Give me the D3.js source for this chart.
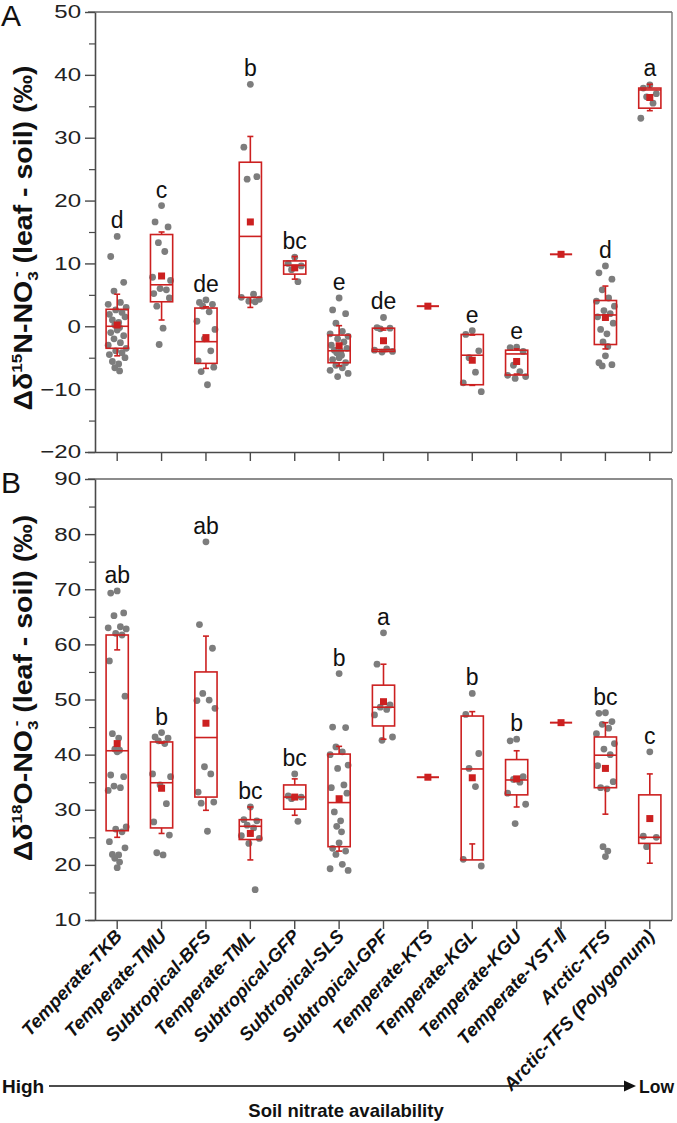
<!DOCTYPE html>
<html><head><meta charset="utf-8">
<script src="https://cdn.jsdelivr.net/npm/d3@7"></script>
<style>
html,body{margin:0;padding:0;background:#fff;}
svg{display:block;font-family:"Liberation Sans",Arial,sans-serif;}
</style></head>
<body>
<svg id="chart" width="677" height="1123"></svg>
<script>
const categories = ["Temperate-TKB","Temperate-TMU","Subtropical-BFS","Temperate-TML","Subtropical-GFP","Subtropical-SLS","Subtropical-GPF","Temperate-KTS","Temperate-KGL","Temperate-KGU","Temperate-YST-\u2161","Arctic-TFS","Arctic-TFS (Polygonum)"];

// Panel A: Δδ15N-NO3- (leaf - soil)
const q1A   = [-3.5, 3.9, -5.9, 4.6, 8.3, -5.8, -4.0, 3.2, -9.3, -7.75, 11.45, -2.9, 34.7];
const medA  = [0.0, 6.6, -2.45, 14.3, 9.7, -3.9, -3.7, 3.2, -4.6, -4.4, 11.45, 1.8, 37.6];
const q3A   = [2.7, 14.6, 2.9, 26.1, 10.4, -1.4, -0.3, 3.2, -1.3, -3.8, 11.45, 4.1, 37.9];
const meanA = [0.2, 8.0, -1.8, 16.6, 9.3, -3.1, -2.3, 3.2, -5.4, -5.6, 11.45, 1.4, 36.4];
const sdA   = [4.9, 7.0, 4.9, 13.6, 1.8, 3.2, 1.7, 0, 4.0, 2.0, 0, 5.0, 2.1];
const lettersA = ["d","c","de","b","bc","e","de","","e","e","","d","a"];
const pointsA = [
  [14.3, 11.1, 7.0, 5.6, 3.8, 3.5, 3.0, 2.6, 2.2, 1.9, 1.5, 1.0, 0.6, 0.2, -0.2, -0.6, -1.0, -1.5, -2.0, -2.6, -3.0, -3.5, -3.9, -4.2, -4.5, -5.0, -5.6, -6.0, -6.6, -7.1],
  [19.2, 16.6, 15.8, 13.3, 11.9, 7.8, 7.3, 6.0, 5.8, 5.2, 4.5, 3.2, -0.3, -2.9],
  [4.2, 3.8, 3.5, 3.2, 2.3, 0.8, -0.5, -2.0, -3.9, -5.5, -6.5, -7.2, -9.3],
  [38.5, 28.5, 23.8, 23.4, 5.1, 4.6, 4.3, 4.0, 3.9],
  [11.0, 10.0, 9.6, 9.0, 7.1],
  [4.5, 2.6, 2.0, 0.5, -0.8, -1.2, -1.6, -2.0, -2.5, -3.0, -3.5, -3.8, -4.0, -4.2, -4.6, -5.0, -5.3, -5.8, -6.2, -6.6, -7.0, -7.5, -8.0],
  [1.4, -0.2, -0.3, -0.4, -3.6, -3.8, -4.0, -4.1],
  [],
  [-0.7, -1.3, -3.9, -5.0, -7.3, -9.0, -10.4],
  [-3.3, -3.4, -4.0, -6.2, -7.2, -7.8, -8.0, -8.3],
  [],
  [9.6, 8.5, 7.5, 5.8, 4.5, 4.0, 3.2, 2.5, 2.0, 1.5, 0.5, -0.5, -1.2, -2.5, -3.2, -4.7, -5.8, -6.1, -6.3],
  [38.4, 37.9, 37.0, 36.5, 35.5, 33.1]
];

// Panel B: Δδ18O-NO3- (leaf - soil)
const q1B   = [26.2, 26.7, 32.3, 24.6, 30.1, 23.3, 45.2, 35.9, 20.9, 32.7, 45.8, 34.0, 23.9];
const medB  = [40.7, 34.9, 43.1, 27.0, 32.3, 31.3, 48.6, 35.9, 37.4, 35.4, 45.8, 39.9, 25.0];
const q3B   = [61.7, 42.3, 55.0, 28.2, 34.5, 40.1, 52.6, 35.9, 47.0, 39.1, 45.8, 43.2, 32.7];
const meanB = [42.0, 33.9, 45.7, 25.7, 32.3, 32.0, 49.6, 35.9, 35.8, 35.6, 45.8, 37.5, 28.4];
const sdB   = [17.0, 8.2, 15.8, 4.8, 3.3, 9.5, 6.8, 0, 12.0, 5.1, 0, 8.3, 8.1];
const lettersB = ["ab","b","ab","bc","bc","b","a","","b","b","","bc","c"];
const pointsB = [
  [69.7, 69.3, 65.7, 65.2, 63.2, 63.0, 62.8, 62.0, 61.7, 57.0, 50.6, 43.8, 43.0, 41.0, 40.8, 40.5, 36.3, 36.0, 34.3, 34.0, 33.5, 26.9, 26.5, 26.0, 24.2, 23.1, 21.9, 21.8, 21.2, 20.5, 19.5],
  [44.0, 43.2, 43.0, 42.5, 42.0, 36.5, 36.0, 34.5, 31.1, 27.8, 25.4, 22.2, 21.8],
  [78.6, 63.6, 59.3, 51.1, 49.9, 49.8, 48.4, 37.8, 36.5, 33.2, 31.4, 31.2, 26.1],
  [30.5, 28.2, 28.0, 27.2, 26.7, 25.3, 24.8, 23.9, 15.5],
  [36.5, 32.5, 32.3, 32.0, 27.9],
  [54.7, 45.0, 44.9, 41.4, 40.5, 40.0, 38.1, 37.5, 34.5, 34.0, 33.0, 29.6, 28.0, 27.0, 26.0, 24.0, 23.0, 22.5, 21.9, 20.1, 19.3, 19.0],
  [62.1, 56.4, 49.0, 48.6, 48.2, 47.2, 43.2, 42.6],
  [],
  [51.1, 47.3, 40.2, 37.5, 34.2, 21.0, 19.8],
  [42.8, 42.5, 36.0, 35.5, 35.0, 33.0, 31.0, 27.5],
  [],
  [47.6, 47.5, 46.0, 45.5, 44.8, 43.8, 42.0, 41.0, 40.0, 38.0, 35.1, 34.0, 33.8, 23.3, 22.5, 21.5],
  [40.5, 25.2, 25.0, 23.3]
];

const ticksA = [-20, -10, 0, 10, 20, 30, 40, 50];
const minorTicksA = [-15, -5, 5, 15, 25, 35, 45];
const ticksB = [10, 20, 30, 40, 50, 60, 70, 80, 90];
const minorTicksB = [15, 25, 35, 45, 55, 65, 75, 85];

const svg = d3.select("#chart");
const RED = "#cc2020", GRAY = "#7d7d7d", AX = "#4a4a4a";
const x = d3.scaleBand().domain(categories).range([95, 672]);
const bw = x.bandwidth();
const jit = [0, -6.5, 6.5, -3.2, 3.2, -9, 9, -1.5, 4.8, -7.8, 7.8, -4.8, 1.5, -2.4, 2.4];

function panel(cfg) {
  const {y, q1, med, q3, mean, sd, pts, letters, ticks, minor, top, bottom} = cfg;
  const g = svg.append("g");
  g.append("line").attr("x1", 88).attr("x2", 672).attr("y1", top).attr("y2", top).attr("stroke", "#666").attr("stroke-width", 1.4);
  g.append("line").attr("x1", 672).attr("x2", 672).attr("y1", top).attr("y2", bottom).attr("stroke", "#777").attr("stroke-width", 1.4);
  const ay = g.append("g").attr("transform", "translate(95,0)")
    .call(d3.axisLeft(y).tickValues(ticks).tickSize(10).tickSizeOuter(0).tickFormat(d3.format("d")));
  ay.select(".domain").attr("stroke", AX).attr("stroke-width", 1.6);
  ay.selectAll(".tick line").attr("stroke", AX).attr("stroke-width", 1.4);
  ay.selectAll(".tick text").attr("font-size", 18.5).attr("fill", "#222")
    .attr("x", -14 / 1.3).attr("transform", "scale(1.3,1)").attr("font-family", "Liberation Sans, Arial");
  const am = g.append("g").attr("transform", "translate(95,0)")
    .call(d3.axisLeft(y).tickValues(minor).tickSize(6).tickFormat(""));
  am.select(".domain").remove();
  am.selectAll(".tick line").attr("stroke", AX).attr("stroke-width", 1.2);
  const ax = g.append("g").attr("transform", `translate(0,${bottom})`)
    .call(d3.axisBottom(x).tickSize(9).tickSizeOuter(0).tickFormat(""));
  ax.select(".domain").attr("stroke", AX).attr("stroke-width", 1.6).attr("d", `M88,0.5H672`);
  ax.selectAll(".tick line").attr("stroke", AX).attr("stroke-width", 1.4);

  categories.forEach((c, i) => {
    const cx = x(c) + bw / 2;
    const sorted = pts[i].slice().sort((a, b) => b - a);
    sorted.forEach((v, j) => {
      g.append("circle").attr("cx", cx + jit[j % jit.length]).attr("cy", y(v)).attr("r", 3.4).attr("fill", GRAY);
    });
    const hw = bw * 0.25;
    if (sd[i] === 0 && q1[i] === q3[i]) {
      g.append("line").attr("x1", cx - hw).attr("x2", cx + hw).attr("y1", y(mean[i])).attr("y2", y(mean[i]))
        .attr("stroke", RED).attr("stroke-width", 2);
    } else {
      g.append("rect").attr("x", cx - hw).attr("y", y(q3[i])).attr("width", 2 * hw)
        .attr("height", y(q1[i]) - y(q3[i])).attr("fill", "none").attr("stroke", RED).attr("stroke-width", 1.6);
      g.append("line").attr("x1", cx - hw).attr("x2", cx + hw).attr("y1", y(med[i])).attr("y2", y(med[i]))
        .attr("stroke", RED).attr("stroke-width", 1.6);
      const hi = mean[i] + sd[i], lo = mean[i] - sd[i];
      [[q3[i], hi], [q1[i], lo]].forEach(([a, b]) => {
        g.append("line").attr("x1", cx).attr("x2", cx).attr("y1", y(a)).attr("y2", y(b)).attr("stroke", RED).attr("stroke-width", 1.6);
        g.append("line").attr("x1", cx - 3).attr("x2", cx + 3).attr("y1", y(b)).attr("y2", y(b)).attr("stroke", RED).attr("stroke-width", 1.6);
      });
    }
    g.append("rect").attr("x", cx - 3.5).attr("y", y(mean[i]) - 3.5).attr("width", 7).attr("height", 7).attr("fill", RED);
    if (letters[i]) {
      const topV = d3.max([...pts[i], q3[i], mean[i] + sd[i]]);
      g.append("text").attr("x", cx).attr("y", y(topV) - 8).attr("text-anchor", "middle")
        .attr("font-size", 23).attr("fill", "#111").text(letters[i]);
    }
  });
}

const yA = d3.scaleLinear().domain([-20, 50]).range([452, 12]);
const yB = d3.scaleLinear().domain([10, 90]).range([920, 479]);
panel({y: yA, q1: q1A, med: medA, q3: q3A, mean: meanA, sd: sdA, pts: pointsA, letters: lettersA, ticks: ticksA, minor: minorTicksA, top: 12, bottom: 452});
panel({y: yB, q1: q1B, med: medB, q3: q3B, mean: meanB, sd: sdB, pts: pointsB, letters: lettersB, ticks: ticksB, minor: minorTicksB, top: 479, bottom: 920});

svg.append("text").attr("x", 1).attr("y", 26).attr("font-size", 30).attr("fill", "#111").text("A");
svg.append("text").attr("x", 1).attr("y", 493).attr("font-size", 30).attr("fill", "#111").text("B");

function ytitle(cy, iso, mass) {
  const t = svg.append("text").attr("transform", `translate(32,${cy}) rotate(-90) scale(1.14,1)`).attr("text-anchor", "middle")
    .attr("font-size", 25).attr("font-weight", "bold").attr("fill", "#111");
  t.append("tspan").text("\u0394\u03b4");
  t.append("tspan").attr("font-size", 15).attr("dy", -10).text(mass);
  t.append("tspan").attr("dy", 10).text(iso + "-NO");
  t.append("tspan").attr("font-size", 15).attr("dy", 6).text("3");
  t.append("tspan").attr("font-size", 15).attr("dy", -17).attr("dx", -5).text("-");
  t.append("tspan").attr("dy", 11).text(" (leaf - soil) (\u2030)");
}
ytitle(238, "N", "15");
ytitle(688, "O", "18");

categories.forEach(c => {
  const cx = x(c) + bw / 2;
  svg.append("text").attr("transform", `translate(${cx + 6},${937}) rotate(-47)`)
    .attr("text-anchor", "end").attr("font-size", 18.5).attr("font-weight", "bold").attr("font-style", "italic")
    .attr("fill", "#111").text(c);
});

svg.append("line").attr("x1", 49).attr("x2", 626).attr("y1", 1086).attr("y2", 1086).attr("stroke", "#111").attr("stroke-width", 1.5);
svg.append("path").attr("d", "M624,1080.5L636,1086L624,1091.5Z").attr("fill", "#111");
svg.append("text").attr("x", 2).attr("y", 1093).attr("font-size", 19).attr("font-weight", "bold").attr("fill", "#111").text("High");
svg.append("text").attr("x", 639).attr("y", 1093).attr("font-size", 17.5).attr("font-weight", "bold").attr("fill", "#111").text("Low");
svg.append("text").attr("x", 346).attr("y", 1117).attr("text-anchor", "middle").attr("font-size", 18.5).attr("font-weight", "bold").attr("fill", "#111").text("Soil nitrate availability");
</script>
</body></html>
